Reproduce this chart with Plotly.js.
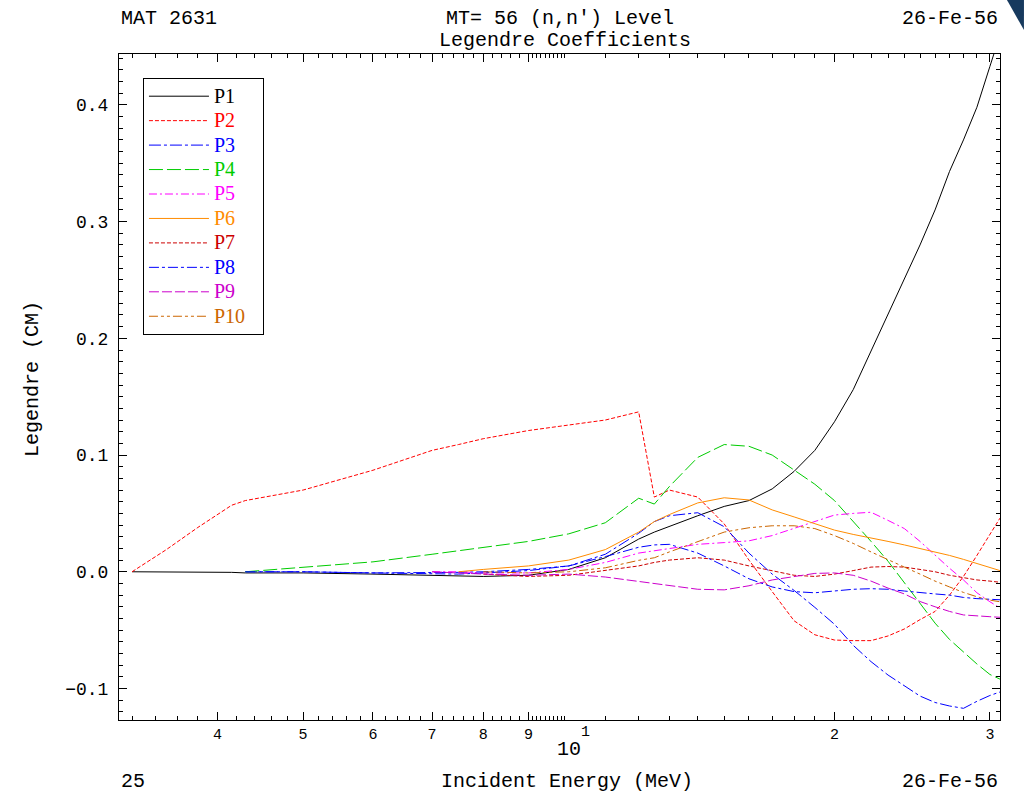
<!DOCTYPE html>
<html><head><meta charset="utf-8">
<script src="https://cdn.plot.ly/plotly-3.0.1.min.js"></script>
<style>html,body{margin:0;padding:0;background:#fff}#plot{width:1024px;height:795px}</style>
</head><body><div id="plot"></div>
<script>
// Incident energy grid (MeV)
const energy = [3.2, 3.5, 3.8, 4, 4.15, 4.3, 5, 6, 7, 7.5, 8, 9, 10, 11, 12, 12.5, 13, 14, 15, 16, 17, 18, 19, 20, 21, 22, 23, 24, 25, 26, 27, 28, 29, 30, 30.8];

const p1 = [0, 0, 0, -0.0005, -0.0005, -0.001, -0.001, -0.002, -0.003, -0.004, -0.004, -0.003, 0.002, 0.012, 0.028, 0.034, 0.039, 0.048, 0.056, 0.061, 0.071, 0.086, 0.104, 0.1285, 0.156, 0.189, 0.220, 0.250, 0.280, 0.310, 0.343, 0.370, 0.398, 0.433, 0.46];
const p2 = [0, 0.019, 0.038, 0.049, 0.057, 0.061, 0.070, 0.087, 0.104, 0.109, 0.114, 0.121, 0.1255, 0.130, 0.137, 0.064, 0.070, 0.064, 0.041, 0.010, -0.017, -0.042, -0.054, -0.0585, -0.059, -0.059, -0.055, -0.049, -0.041, -0.034, -0.020, -0.004, 0.014, 0.032, 0.046];
const p3 = [null, null, null, null, null, 0, 0, -0.001, -0.001, -0.0005, 0, 0.002, 0.005, 0.015, 0.033, 0.043, 0.048, 0.0506, 0.0386, 0.016, -0.002, -0.016, -0.0305, -0.045, -0.063, -0.077, -0.0885, -0.0977, -0.1065, -0.112, -0.115, -0.117, -0.111, -0.106, -0.103];
const p4 = [null, null, null, null, null, 0, 0.004, 0.0085, 0.015, 0.018, 0.021, 0.026, 0.0325, 0.042, 0.063, 0.058, 0.073, 0.098, 0.109, 0.1075, 0.100, 0.087, 0.075, 0.061, 0.0434, 0.026, 0.009, -0.0094, -0.027, -0.044, -0.058, -0.069, -0.079, -0.088, -0.092];
const p5 = [null, null, null, null, null, null, null, null, 0, 0, -0.001, -0.001, 0.002, 0.008, 0.016, 0.018, 0.020, 0.0235, 0.025, 0.0265, 0.031, 0.037, 0.043, 0.0486, 0.050, 0.051, 0.044, 0.037, 0.026, 0.014, 0.003, -0.007, -0.018, -0.0257, -0.031];
const p6 = [null, null, null, null, null, null, null, null, null, 0, 0.002, 0.005, 0.010, 0.019, 0.034, 0.043, 0.049, 0.059, 0.0634, 0.0615, 0.053, 0.047, 0.041, 0.0357, 0.032, 0.0286, 0.026, 0.023, 0.020, 0.0169, 0.014, 0.0106, 0.0072, 0.0038, 0.001];
const p7 = [null, null, null, null, null, null, null, null, null, null, -0.002, -0.004, -0.003, 0.001, 0.005, 0.008, 0.010, 0.012, 0.010, 0.005, 0.001, -0.003, -0.004, -0.002, 0.001, 0.004, 0.0045, 0.004, 0.002, 0.000, -0.003, -0.005, -0.007, -0.008, -0.009];
const p8 = [null, null, null, null, null, 0, 0, -0.001, -0.002, -0.002, -0.001, 0.001, 0.005, 0.013, 0.021, 0.023, 0.0235, 0.016, 0.005, -0.006, -0.013, -0.017, -0.018, -0.0165, -0.015, -0.0145, -0.015, -0.0165, -0.018, -0.019, -0.020, -0.022, -0.023, -0.0235, -0.024];
const p9 = [null, null, null, null, null, null, null, null, 0, -0.001, -0.002, -0.003, -0.002, -0.0045, -0.0085, -0.010, -0.012, -0.015, -0.0155, -0.012, -0.007, -0.004, -0.0014, -0.001, -0.003, -0.008, -0.014, -0.019, -0.0255, -0.030, -0.034, -0.037, -0.038, -0.0385, -0.039];
const p10 = [null, null, null, null, null, null, null, null, null, null, 0, -0.001, 0, 0.0034, 0.0098, 0.012, 0.017, 0.0257, 0.034, 0.0377, 0.0394, 0.0394, 0.037, 0.031, 0.0243, 0.017, 0.010, 0.004, -0.002, -0.008, -0.013, -0.0177, -0.0214, -0.0243, -0.0257];

const seriesNames = ['P1', 'P2', 'P3', 'P4', 'P5', 'P6', 'P7', 'P8', 'P9', 'P10'];
const seriesValues = [p1, p2, p3, p4, p5, p6, p7, p8, p9, p10];

// x tick labels; the decade 10 is labelled "10" with superscript "1"
const xTickVals = [4, 5, 6, 7, 8, 9, 20, 30];
const xTickText = ['4', '5', '6', '7', '8', '9', '2', '3'];
const decadeTick = [10];
const decadeBase = '10';
const decadeExp = '1';

// styles
const seriesColors = ['#000000', '#FF0000', '#0000FF', '#00CC00', '#FF00FF', '#FF8C00', '#CC0000', '#0000FF', '#CC00CC', '#CC6600'];
const seriesDashes = ['solid', '4px,2px', '12px,3px,3px,3px', '14px,4px', '8px,3px,2px,3px', 'solid', '4px,2px', '10px,3px,3px,3px', '10px,3px', '9px,3px,3px,3px,3px,3px'];

const traces = seriesNames.map((n, i) => ({
  x: energy,
  y: seriesValues[i],
  type: 'scatter',
  mode: 'lines',
  name: '<span style="color:' + seriesColors[i] + ';font-size:20px">' + n + '</span>\u00A0\u00A0\u00A0',
  line: {color: seriesColors[i], width: 1, dash: seriesDashes[i]},
  connectgaps: false,
  hoverinfo: 'skip'
}));

const minorX = [];
for (let v = 3.2; v < 8.95; v += 0.2) {
  const r = Math.round(v * 10) / 10;
  if (Math.abs(r - Math.round(r)) > 1e-6) minorX.push(r);
}
for (let k = 1; k <= 9; k++) minorX.push(9 + k / 10);
for (let k = 11; k <= 19; k++) minorX.push(k);
for (let k = 21; k <= 29; k++) minorX.push(k);

const mono = 'Liberation Mono, DejaVu Sans Mono, monospace';
const hdr = {family: mono, size: 20, color: '#000'};
const xRange = [Math.log10(3.093), Math.log10(30.8)];

const layout = {
  width: 1024, height: 795,
  margin: {l: 119, r: 24, t: 54, b: 75},
  paper_bgcolor: '#fff', plot_bgcolor: '#fff',
  showlegend: true,
  xaxis: {
    type: 'log',
    range: xRange,
    tickmode: 'array', tickvals: xTickVals, ticktext: xTickText,
    ticks: 'inside', ticklen: 8, tickwidth: 1, tickcolor: '#000',
    showline: true, linecolor: '#000', linewidth: 1, mirror: 'allticks',
    showgrid: false, zeroline: false,
    tickfont: {family: mono, size: 15, color: '#000'},
    minor: {tickmode: 'array', tickvals: minorX, ticks: 'inside', ticklen: 4, tickwidth: 1, tickcolor: '#000', showgrid: false}
  },
  xaxis2: {
    type: 'log', range: xRange, overlaying: 'x', anchor: 'y', side: 'bottom',
    tickmode: 'array', tickvals: decadeTick, showticklabels: false,
    ticks: 'inside', ticklen: 8, tickwidth: 1, tickcolor: '#000',
    showline: false, mirror: 'ticks', showgrid: false, zeroline: false
  },
  yaxis: {
    range: [-0.127, 0.4436],
    tick0: 0, dtick: 0.1, tickformat: '.1f',
    ticks: 'inside', ticklen: 8, tickwidth: 1, tickcolor: '#000',
    showline: true, linecolor: '#000', linewidth: 1, mirror: 'allticks',
    showgrid: false, zeroline: false,
    ticklabelstandoff: 6,
    tickfont: {family: mono, size: 18, color: '#000'},
    minor: {dtick: 0.01, ticks: 'inside', ticklen: 4, tickwidth: 1, tickcolor: '#000', showgrid: false}
  },
  legend: {
    x: 0.0272, y: 0.964, xanchor: 'left', yanchor: 'top',
    bgcolor: '#fff', bordercolor: '#000', borderwidth: 1,
    font: {family: 'Liberation Serif, serif', size: 16.5, color: '#000'},
    itemwidth: 60, tracegroupgap: 0
  },
  annotations: [
    {text: 'MAT 2631', xref: 'paper', yref: 'paper', x: 0, y: 1.054, xanchor: 'left', yanchor: 'middle', showarrow: false, font: hdr},
    {text: "MT= 56 (n,n') Level", xref: 'paper', yref: 'paper', x: 0.5, y: 1.054, xanchor: 'center', yanchor: 'middle', showarrow: false, font: hdr},
    {text: '26-Fe-56', xref: 'paper', yref: 'paper', x: 1, y: 1.054, xanchor: 'right', yanchor: 'middle', showarrow: false, font: hdr},
    {text: 'Legendre Coefficients', xref: 'paper', yref: 'paper', x: 0.5, y: 1.021, xanchor: 'center', yanchor: 'middle', xshift: 5, showarrow: false, font: hdr},
    {text: '25', xref: 'paper', yref: 'paper', x: 0, y: -0.0916, xanchor: 'left', yanchor: 'middle', showarrow: false, font: hdr},
    {text: 'Incident Energy (MeV)', xref: 'paper', yref: 'paper', x: 0.5, y: -0.0916, xanchor: 'center', yanchor: 'middle', xshift: 7, showarrow: false, font: hdr},
    {text: '26-Fe-56', xref: 'paper', yref: 'paper', x: 1, y: -0.0916, xanchor: 'right', yanchor: 'middle', showarrow: false, font: hdr},
    {text: 'Legendre (CM)', xref: 'paper', yref: 'paper', x: -0.0988, y: 0.512, xanchor: 'center', yanchor: 'middle', textangle: -90, showarrow: false, font: hdr},
    {text: decadeBase, xref: 'x', yref: 'paper', x: Math.log10(decadeTick[0]), y: -0.044, xanchor: 'center', yanchor: 'middle', showarrow: false, font: {family: mono, size: 20, color: '#000'}},
    {text: decadeExp, xref: 'x', yref: 'paper', x: Math.log10(decadeTick[0]), y: -0.0195, xanchor: 'center', yanchor: 'middle', xshift: 17, showarrow: false, font: {family: mono, size: 15, color: '#000'}}
  ],
  shapes: [
    {type: 'path', xref: 'paper', yref: 'paper', path: 'M 1.0079 1.0811 L 1.0272 1.0811 L 1.0272 1.036 Z', fillcolor: '#173a5e', line: {width: 0}}
  ]
};

Plotly.newPlot('plot', traces, layout, {staticPlot: true, displayModeBar: false});
</script>
</body></html>
